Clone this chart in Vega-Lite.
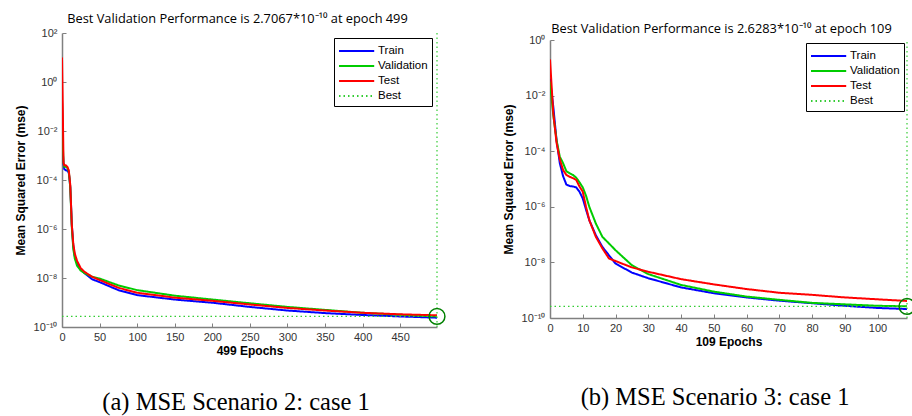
{
  "$schema": "https://vega.github.io/schema/vega-lite/v6.json",
  "background": "white",
  "padding": {"left": 14, "top": 13, "right": 5, "bottom": 5},
  "datasets": {
    "a": [
      {"epoch":0,"series":"Train","mse":0.18},{"epoch":1,"series":"Train","mse":1.6e-3},{"epoch":2,"series":"Train","mse":4.5e-4},{"epoch":3,"series":"Train","mse":2.8e-4},{"epoch":5,"series":"Train","mse":2.5e-4},{"epoch":7,"series":"Train","mse":2.4e-4},{"epoch":9,"series":"Train","mse":2.0e-4},{"epoch":10,"series":"Train","mse":1.12e-4},{"epoch":11,"series":"Train","mse":5.0e-5},{"epoch":12,"series":"Train","mse":1.0e-5},{"epoch":13,"series":"Train","mse":1.6e-6},{"epoch":15,"series":"Train","mse":2.0e-7},{"epoch":17,"series":"Train","mse":7.9e-8},{"epoch":20,"series":"Train","mse":4.0e-8},{"epoch":25,"series":"Train","mse":2.2e-8},{"epoch":30,"series":"Train","mse":1.58e-8},{"epoch":40,"series":"Train","mse":8.9e-9},{"epoch":50,"series":"Train","mse":6.8e-9},{"epoch":75,"series":"Train","mse":3.2e-9},{"epoch":100,"series":"Train","mse":2.0e-9},{"epoch":150,"series":"Train","mse":1.32e-9},{"epoch":200,"series":"Train","mse":9.8e-10},{"epoch":250,"series":"Train","mse":6.6e-10},{"epoch":300,"series":"Train","mse":4.7e-10},{"epoch":350,"series":"Train","mse":3.7e-10},{"epoch":400,"series":"Train","mse":3.1e-10},{"epoch":450,"series":"Train","mse":2.7e-10},{"epoch":499,"series":"Train","mse":2.4e-10},
      {"epoch":0,"series":"Validation","mse":0.2},{"epoch":1,"series":"Validation","mse":3.2e-3},{"epoch":2,"series":"Validation","mse":5.0e-4},{"epoch":3,"series":"Validation","mse":3.5e-4},{"epoch":5,"series":"Validation","mse":3.5e-4},{"epoch":7,"series":"Validation","mse":3.2e-4},{"epoch":9,"series":"Validation","mse":2.2e-4},{"epoch":10,"series":"Validation","mse":1.12e-4},{"epoch":11,"series":"Validation","mse":5.0e-5},{"epoch":12,"series":"Validation","mse":7.9e-6},{"epoch":13,"series":"Validation","mse":1.26e-6},{"epoch":15,"series":"Validation","mse":1.58e-7},{"epoch":17,"series":"Validation","mse":6.3e-8},{"epoch":20,"series":"Validation","mse":3.2e-8},{"epoch":25,"series":"Validation","mse":2.0e-8},{"epoch":30,"series":"Validation","mse":1.58e-8},{"epoch":40,"series":"Validation","mse":1.12e-8},{"epoch":50,"series":"Validation","mse":9.5e-9},{"epoch":75,"series":"Validation","mse":5.0e-9},{"epoch":100,"series":"Validation","mse":3.2e-9},{"epoch":150,"series":"Validation","mse":1.9e-9},{"epoch":200,"series":"Validation","mse":1.32e-9},{"epoch":250,"series":"Validation","mse":9.3e-10},{"epoch":300,"series":"Validation","mse":6.6e-10},{"epoch":350,"series":"Validation","mse":5.0e-10},{"epoch":400,"series":"Validation","mse":3.8e-10},{"epoch":450,"series":"Validation","mse":3.16e-10},{"epoch":499,"series":"Validation","mse":2.7067e-10},
      {"epoch":0,"series":"Test","mse":10},{"epoch":1,"series":"Test","mse":0.1},{"epoch":2,"series":"Test","mse":5.0e-4},{"epoch":3,"series":"Test","mse":4.0e-4},{"epoch":5,"series":"Test","mse":4.0e-4},{"epoch":7,"series":"Test","mse":3.5e-4},{"epoch":9,"series":"Test","mse":2.5e-4},{"epoch":10,"series":"Test","mse":1.26e-4},{"epoch":11,"series":"Test","mse":6.3e-5},{"epoch":12,"series":"Test","mse":1.0e-5},{"epoch":13,"series":"Test","mse":1.6e-6},{"epoch":15,"series":"Test","mse":2.5e-7},{"epoch":17,"series":"Test","mse":1.0e-7},{"epoch":20,"series":"Test","mse":5.0e-8},{"epoch":25,"series":"Test","mse":2.5e-8},{"epoch":30,"series":"Test","mse":1.78e-8},{"epoch":40,"series":"Test","mse":1.12e-8},{"epoch":50,"series":"Test","mse":8.3e-9},{"epoch":75,"series":"Test","mse":4.0e-9},{"epoch":100,"series":"Test","mse":2.5e-9},{"epoch":150,"series":"Test","mse":1.58e-9},{"epoch":200,"series":"Test","mse":1.17e-9},{"epoch":250,"series":"Test","mse":8.3e-10},{"epoch":300,"series":"Test","mse":6.0e-10},{"epoch":350,"series":"Test","mse":4.7e-10},{"epoch":400,"series":"Test","mse":3.8e-10},{"epoch":450,"series":"Test","mse":3.3e-10},{"epoch":499,"series":"Test","mse":3.0e-10}
    ],
    "b": [
      {"epoch":0,"series":"Train","mse":4.0e-2},{"epoch":1,"series":"Train","mse":4.0e-3},{"epoch":2,"series":"Train","mse":2.5e-4},{"epoch":3,"series":"Train","mse":3.7e-5},{"epoch":4,"series":"Train","mse":1.26e-5},{"epoch":5,"series":"Train","mse":6.3e-6},{"epoch":6,"series":"Train","mse":5.6e-6},{"epoch":7,"series":"Train","mse":5.4e-6},{"epoch":8,"series":"Train","mse":5.0e-6},{"epoch":9,"series":"Train","mse":3.5e-6},{"epoch":10,"series":"Train","mse":2.0e-6},{"epoch":11,"series":"Train","mse":7.9e-7},{"epoch":12,"series":"Train","mse":3.3e-7},{"epoch":14,"series":"Train","mse":9.5e-8},{"epoch":16,"series":"Train","mse":3.6e-8},{"epoch":18,"series":"Train","mse":1.8e-8},{"epoch":20,"series":"Train","mse":9.1e-9},{"epoch":25,"series":"Train","mse":4.3e-9},{"epoch":30,"series":"Train","mse":2.7e-9},{"epoch":40,"series":"Train","mse":1.26e-9},{"epoch":50,"series":"Train","mse":7.8e-10},{"epoch":60,"series":"Train","mse":5.5e-10},{"epoch":70,"series":"Train","mse":4.2e-10},{"epoch":80,"series":"Train","mse":3.4e-10},{"epoch":90,"series":"Train","mse":2.75e-10},{"epoch":100,"series":"Train","mse":2.3e-10},{"epoch":109,"series":"Train","mse":2.1e-10},
      {"epoch":0,"series":"Validation","mse":3.2e-2},{"epoch":1,"series":"Validation","mse":2.0e-3},{"epoch":2,"series":"Validation","mse":2.5e-4},{"epoch":3,"series":"Validation","mse":6.3e-5},{"epoch":4,"series":"Validation","mse":3.7e-5},{"epoch":5,"series":"Validation","mse":1.9e-5},{"epoch":6,"series":"Validation","mse":1.6e-5},{"epoch":7,"series":"Validation","mse":1.4e-5},{"epoch":8,"series":"Validation","mse":1.12e-5},{"epoch":9,"series":"Validation","mse":7.6e-6},{"epoch":10,"series":"Validation","mse":5.0e-6},{"epoch":11,"series":"Validation","mse":2.5e-6},{"epoch":12,"series":"Validation","mse":1.0e-6},{"epoch":14,"series":"Validation","mse":2.5e-7},{"epoch":16,"series":"Validation","mse":8.3e-8},{"epoch":18,"series":"Validation","mse":4.8e-8},{"epoch":20,"series":"Validation","mse":2.75e-8},{"epoch":25,"series":"Validation","mse":7.9e-9},{"epoch":30,"series":"Validation","mse":3.8e-9},{"epoch":40,"series":"Validation","mse":1.55e-9},{"epoch":50,"series":"Validation","mse":8.9e-10},{"epoch":60,"series":"Validation","mse":5.9e-10},{"epoch":70,"series":"Validation","mse":4.5e-10},{"epoch":80,"series":"Validation","mse":3.5e-10},{"epoch":90,"series":"Validation","mse":3.1e-10},{"epoch":100,"series":"Validation","mse":2.75e-10},{"epoch":109,"series":"Validation","mse":2.6283e-10},
      {"epoch":0,"series":"Test","mse":0.2},{"epoch":1,"series":"Test","mse":2.3e-3},{"epoch":2,"series":"Test","mse":2.0e-4},{"epoch":3,"series":"Test","mse":5.0e-5},{"epoch":4,"series":"Test","mse":2.1e-5},{"epoch":5,"series":"Test","mse":1.4e-5},{"epoch":6,"series":"Test","mse":1.2e-5},{"epoch":7,"series":"Test","mse":1.07e-5},{"epoch":8,"series":"Test","mse":9.3e-6},{"epoch":9,"series":"Test","mse":5.4e-6},{"epoch":10,"series":"Test","mse":3.5e-6},{"epoch":11,"series":"Test","mse":1.0e-6},{"epoch":12,"series":"Test","mse":3.3e-7},{"epoch":14,"series":"Test","mse":8.3e-8},{"epoch":16,"series":"Test","mse":3.2e-8},{"epoch":18,"series":"Test","mse":1.38e-8},{"epoch":20,"series":"Test","mse":1.12e-8},{"epoch":25,"series":"Test","mse":6.6e-9},{"epoch":30,"series":"Test","mse":4.6e-9},{"epoch":40,"series":"Test","mse":2.5e-9},{"epoch":50,"series":"Test","mse":1.62e-9},{"epoch":60,"series":"Test","mse":1.1e-9},{"epoch":70,"series":"Test","mse":8.1e-10},{"epoch":80,"series":"Test","mse":6.8e-10},{"epoch":90,"series":"Test","mse":5.5e-10},{"epoch":100,"series":"Test","mse":4.7e-10},{"epoch":109,"series":"Test","mse":4.1e-10}
    ],
    "bestA": [{"series":"Best","epoch":499,"mse":2.7067e-10}],
    "bestB": [{"series":"Best","epoch":109,"mse":2.6283e-10}]
  },
  "resolve": {"scale": {"x":"independent","y":"independent","color":"independent","strokeDash":"independent"}},
  "spacing": 54,
  "hconcat": [
    {
      "resolve": {"scale": {"x":"independent","y":"independent","color":"independent","strokeDash":"independent"}},
      "title": {"text": "(a)  MSE Scenario 2: case 1", "orient": "bottom", "anchor": "middle", "dx": 5, "offset": 35, "font": "Liberation Serif", "fontSize": 24.5, "fontWeight": "normal", "color": "black"},
      "vconcat": [
        {
          "width": 375, "height": 294,
          "title": {"text": "Best Validation Performance is 2.7067*10⁻¹⁰ at epoch 499", "anchor": "middle", "dx": -12, "offset": 1, "font": "Open Sans", "fontSize": 12.8, "fontWeight": "normal", "color": "black"},
          "layer": [
            {
              "data": {"name": "a"},
              "mark": {"type": "line", "strokeWidth": 2, "clip": true},
              "encoding": {
                "x": {"field": "epoch", "type": "quantitative", "scale": {"domain": [0, 499], "nice": false}, "axis": {"values": [0,50,100,150,200,250,300,350,400,450], "labelOverlap": false, "title": "499 Epochs"}},
                "y": {"field": "mse", "type": "quantitative", "scale": {"type": "log", "domain": [1e-10, 100], "nice": false}, "axis": {"values": [1e-10,1e-8,1e-6,1e-4,1e-2,1,100], "title": "Mean Squared Error  (mse)"}},
                "color": {"field": "series", "type": "nominal", "title": null, "scale": {"domain": ["Train","Validation","Test","Best"], "range": ["#0000ff","#00cc00","#ff0000","#33cc33"]}},
                "strokeDash": {"field": "series", "type": "nominal", "title": null, "scale": {"domain": ["Train","Validation","Test","Best"], "range": [[1,0],[1,0],[1,0],[1.5,3]]}}
              }
            },
            {
              "data": {"name": "bestA"},
              "mark": {"type": "rule", "strokeWidth": 1.2},
              "encoding": {
                "y": {"field": "mse", "type": "quantitative", "axis": {"values": [1e-10,1e-8,1e-6,1e-4,1e-2,1,100], "title": "Mean Squared Error  (mse)"}},
                "color": {"field": "series", "type": "nominal", "title": null},
                "strokeDash": {"field": "series", "type": "nominal", "title": null}
              }
            },
            {
              "data": {"name": "bestA"},
              "mark": {"type": "rule", "strokeWidth": 1.2},
              "encoding": {
                "x": {"field": "epoch", "type": "quantitative", "axis": {"values": [0,50,100,150,200,250,300,350,400,450], "labelOverlap": false, "title": "499 Epochs"}},
                "color": {"field": "series", "type": "nominal", "title": null},
                "strokeDash": {"field": "series", "type": "nominal", "title": null}
              }
            },
            {
              "data": {"name": "bestA"},
              "mark": {"type": "point", "shape": "circle", "size": 250, "filled": false, "color": "#008000", "strokeWidth": 1.5, "opacity": 1},
              "encoding": {
                "x": {"field": "epoch", "type": "quantitative", "axis": {"values": [0,50,100,150,200,250,300,350,400,450], "labelOverlap": false, "title": "499 Epochs"}},
                "y": {"field": "mse", "type": "quantitative", "axis": {"values": [1e-10,1e-8,1e-6,1e-4,1e-2,1,100], "title": "Mean Squared Error  (mse)"}}
              }
            }
          ]
        }
      ]
    },
    {
      "resolve": {"scale": {"x":"independent","y":"independent","color":"independent","strokeDash":"independent"}},
      "title": {"text": "(b)  MSE Scenario 3: case 1", "orient": "bottom", "anchor": "middle", "dx": 5, "offset": 39, "font": "Liberation Serif", "fontSize": 24.5, "fontWeight": "normal", "color": "black"},
      "vconcat": [
        {
          "width": 357, "height": 285,
          "title": {"text": "Best Validation Performance is 2.6283*10⁻¹⁰ at epoch 109", "anchor": "middle", "dx": -7, "dy": 4, "offset": 1, "font": "Open Sans", "fontSize": 12.8, "fontWeight": "normal", "color": "black"},
          "layer": [
            {
              "data": {"name": "b"},
              "mark": {"type": "line", "strokeWidth": 2, "clip": true},
              "encoding": {
                "x": {"field": "epoch", "type": "quantitative", "scale": {"domain": [0, 109], "nice": false}, "axis": {"values": [0,10,20,30,40,50,60,70,80,90,100], "labelOverlap": false, "title": "109 Epochs"}},
                "y": {"field": "mse", "type": "quantitative", "scale": {"type": "log", "domain": [1e-10, 1], "nice": false, "range": [285, 7]}, "axis": {"values": [1e-10,1e-8,1e-6,1e-4,1e-2,1], "title": "Mean Squared Error  (mse)"}},
                "color": {"field": "series", "type": "nominal", "title": null, "scale": {"domain": ["Train","Validation","Test","Best"], "range": ["#0000ff","#00cc00","#ff0000","#33cc33"]}, "legend": {"orient": "none", "legendX": 256, "legendY": 10}},
                "strokeDash": {"field": "series", "type": "nominal", "title": null, "scale": {"domain": ["Train","Validation","Test","Best"], "range": [[1,0],[1,0],[1,0],[1.5,3]]}, "legend": {"orient": "none", "legendX": 256, "legendY": 10}}
              }
            },
            {
              "data": {"name": "bestB"},
              "mark": {"type": "rule", "strokeWidth": 1.2},
              "encoding": {
                "y": {"field": "mse", "type": "quantitative", "axis": {"values": [1e-10,1e-8,1e-6,1e-4,1e-2,1], "title": "Mean Squared Error  (mse)"}},
                "color": {"field": "series", "type": "nominal", "title": null},
                "strokeDash": {"field": "series", "type": "nominal", "title": null}
              }
            },
            {
              "data": {"name": "bestB"},
              "mark": {"type": "rule", "strokeWidth": 1.2},
              "encoding": {
                "x": {"field": "epoch", "type": "quantitative", "axis": {"values": [0,10,20,30,40,50,60,70,80,90,100], "labelOverlap": false, "title": "109 Epochs"}},
                "y": {"datum": 1e-10, "axis": {"values": [1e-10,1e-8,1e-6,1e-4,1e-2,1], "title": "Mean Squared Error  (mse)"}},
                "y2": {"datum": 1},
                "color": {"field": "series", "type": "nominal", "title": null},
                "strokeDash": {"field": "series", "type": "nominal", "title": null}
              }
            },
            {
              "data": {"name": "bestB"},
              "mark": {"type": "point", "shape": "circle", "size": 250, "filled": false, "color": "#008000", "strokeWidth": 1.5, "opacity": 1},
              "encoding": {
                "x": {"field": "epoch", "type": "quantitative", "axis": {"values": [0,10,20,30,40,50,60,70,80,90,100], "labelOverlap": false, "title": "109 Epochs"}},
                "y": {"field": "mse", "type": "quantitative", "axis": {"values": [1e-10,1e-8,1e-6,1e-4,1e-2,1], "title": "Mean Squared Error  (mse)"}}
              }
            }
          ]
        }
      ]
    }
  ],
  "config": {
    "view": {"stroke": null},
    "axis": {
      "grid": false,
      "domainColor": "#808080",
      "domainWidth": 1.5,
      "tickColor": "#808080",
      "tickSize": -4,
      "labelOverlap": false,
      "labelFlush": false,
      "labelFont": "Liberation Sans",
      "labelFontSize": 11,
      "labelColor": "#333333",
      "titleFont": "Liberation Sans",
      "titleFontSize": 12,
      "titleFontWeight": "bold",
      "titleColor": "black"
    },
    "axisX": {"labelPadding": 8, "titlePadding": 3},
    "axisY": {"labelPadding": 9, "titlePadding": 6, "labelExpr": "'10' + ['⁻¹⁰','⁻⁸','⁻⁶','⁻⁴','⁻²','⁰','²'][(round(log(datum.value)/LN10)+10)/2]"},
    "legend": {
      "orient": "top-right",
      "offset": 5,
      "strokeColor": "black",
      "strokeWidth": 1,
      "fillColor": "white",
      "padding": 4,
      "cornerRadius": 0,
      "symbolType": "M-1,0H3.4",
      "symbolSize": 256,
      "symbolStrokeWidth": 2,
      "labelFont": "Liberation Sans",
      "labelFontSize": 11.5,
      "labelColor": "black",
      "labelOffset": 22,
      "rowPadding": 0
    }
  }
}
